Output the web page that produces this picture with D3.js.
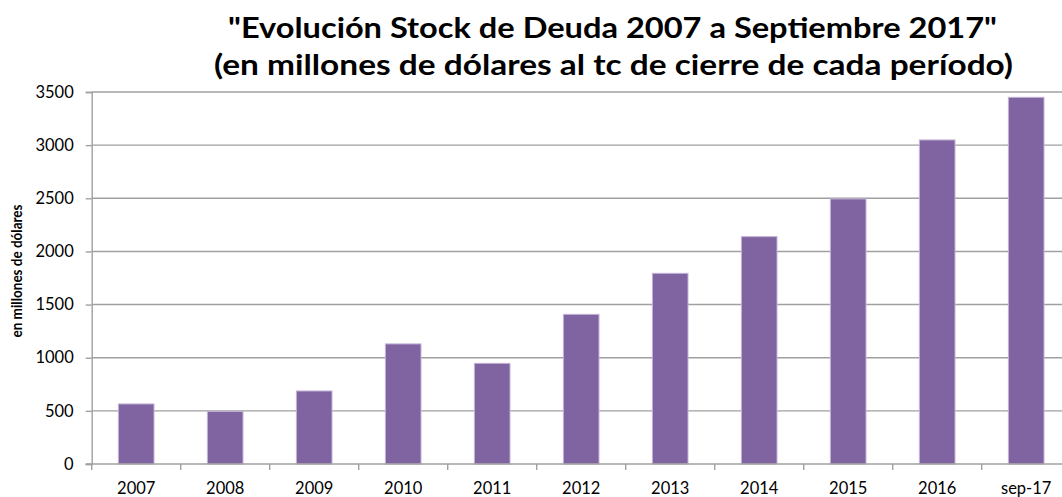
<!DOCTYPE html>
<html>
<head>
<meta charset="utf-8">
<script src="https://cdn.jsdelivr.net/npm/d3@7"></script>
<style>
  body { margin: 0; background: #fff; }
  svg { display: block; font-family: Lato, "Open Sans", sans-serif; }
</style>
</head>
<body>
<script>
// data
const categories = ["2007", "2008", "2009", "2010", "2011", "2012", "2013", "2014", "2015", "2016", "sep-17"]
const stock = [565, 495, 687, 1130, 947, 1408, 1794, 2139, 2494, 3049, 3450]
const yTicks = [0, 500, 1000, 1500, 2000, 2500, 3000, 3500]
const titleLines = ["\"Evolución Stock de Deuda 2007 a Septiembre 2017\"", "(en millones de dólares al tc de cierre de cada período)"]
const yLabel = "en millones de dólares"

var w = 1062
var h = 497
var plotLeft = 91.7
var step = 89
var plotTop = 92
var plotBottom = 464

var svg = d3.select("body")
    .append("svg")
    .attr("width", w)
    .attr("height", h)

var xScale = d3.scaleBand()
    .domain(categories)
    .range([plotLeft, plotLeft + step * categories.length])
    .paddingInner(0.6)
    .paddingOuter(0.3)

var yScale = d3.scaleLinear()
    .domain([0, 3500])
    .range([plotBottom, plotTop])

// gridlines
svg.append("g")
    .selectAll("line")
    .data(yTicks.filter(d => d > 0))
    .enter()
    .append("line")
    .attr("x1", plotLeft)
    .attr("x2", w)
    .attr("y1", d => yScale(d))
    .attr("y2", d => yScale(d))
    .attr("stroke", "#a0a0a0")
    .attr("stroke-width", 1.4)

// bars
svg.append("g")
    .selectAll("rect")
    .data(stock)
    .enter()
    .append("rect")
    .attr("x", (d, i) => xScale(categories[i]))
    .attr("y", d => yScale(d))
    .attr("width", xScale.bandwidth())
    .attr("height", d => plotBottom - yScale(d))
    .attr("fill", "#8064a2")
    .attr("stroke", "#c2b3d6")
    .attr("stroke-width", 1)

// y axis
var yAxis = d3.axisLeft(yScale).tickValues(yTicks).tickFormat(d3.format("d")).tickSize(6).tickPadding(12)
var gy = svg.append("g")
    .attr("transform", "translate(" + plotLeft + ",0)")
    .call(yAxis)
gy.select(".domain").attr("stroke", "#a0a0a0").attr("stroke-width", 1.4)
gy.selectAll(".tick line").attr("stroke", "#a0a0a0").attr("stroke-width", 1.4)
gy.selectAll(".tick text")
    .attr("font-size", 16.5)
    .attr("font-family", "Lato, sans-serif")
    .attr("fill", "#000")

// x axis (ticks sit between the categories)
var xAxis = d3.axisBottom(xScale).tickSize(0).tickPadding(18)
var gx = svg.append("g")
    .attr("transform", "translate(0," + plotBottom + ")")
    .call(xAxis)
gx.select(".domain").remove()
gx.selectAll(".tick text")
    .attr("font-size", 16.5)
    .attr("font-family", "Lato, sans-serif")
    .attr("fill", "#000")

svg.append("line")
    .attr("x1", plotLeft - 6)
    .attr("x2", w)
    .attr("y1", plotBottom)
    .attr("y2", plotBottom)
    .attr("stroke", "#a0a0a0")
    .attr("stroke-width", 1.4)

svg.append("g")
    .selectAll("line")
    .data(d3.range(categories.length + 1))
    .enter()
    .append("line")
    .attr("x1", i => plotLeft + i * step)
    .attr("x2", i => plotLeft + i * step)
    .attr("y1", plotBottom)
    .attr("y2", plotBottom + 6)
    .attr("stroke", "#a0a0a0")
    .attr("stroke-width", 1.4)

// title
var titleX = [612.5, 613.5]
var titleLen = [769, 799]
var titleY = [38, 75]
svg.append("g")
    .selectAll("text")
    .data(titleLines)
    .enter()
    .append("text")
    .attr("x", (d, i) => titleX[i])
    .attr("y", (d, i) => titleY[i])
    .attr("text-anchor", "middle")
    .attr("font-size", 28)
    .attr("font-weight", "bold")
    .attr("textLength", (d, i) => titleLen[i])
    .attr("lengthAdjust", "spacingAndGlyphs")
    .text(d => d)

// y axis label
svg.append("text")
    .attr("transform", "translate(22,271) rotate(-90)")
    .attr("text-anchor", "middle")
    .attr("font-size", 15)
    .attr("font-weight", "bold")
    .attr("textLength", 133)
    .attr("lengthAdjust", "spacingAndGlyphs")
    .text(yLabel)
</script>
</body>
</html>
